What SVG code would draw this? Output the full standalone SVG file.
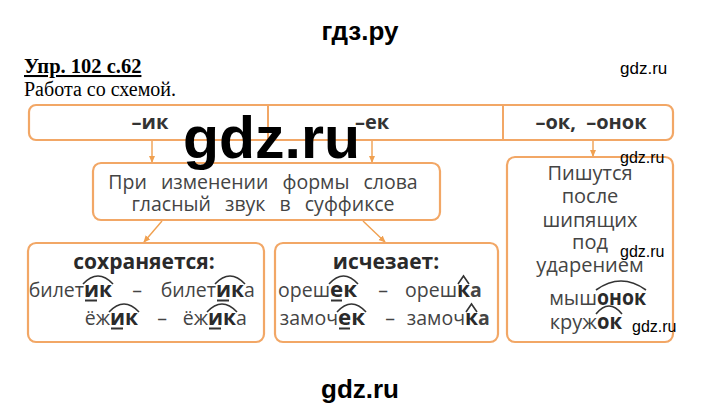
<svg xmlns="http://www.w3.org/2000/svg" width="720" height="412" viewBox="0 0 720 412">
<defs>
<style>
.box{fill:#fff;stroke:#f2a766;stroke-width:2.2}
.t{font-family:"Open Sans","Noto Sans",sans-serif;font-size:19.5px;fill:#444}
.b{font-family:"Open Sans","Noto Sans",sans-serif;font-size:21px;font-weight:bold;fill:#2a2a2a}
.m{font-family:"Open Sans","Noto Sans",sans-serif;font-size:19.5px;fill:#444;word-spacing:9px}
.hd{font-family:"Open Sans","Noto Sans",sans-serif;font-size:20px;font-weight:bold;fill:#333}
.r{font-family:"Open Sans","Noto Sans",sans-serif;font-size:20px;fill:#444}
.wm{font-family:"Liberation Sans",Arial,sans-serif;fill:#000}
.hat{fill:none;stroke:#333;stroke-width:1.6}
.ul{stroke:#333;stroke-width:1.8}
.ar{fill:none;stroke:#f0a050;stroke-width:1.4}
</style>
<marker id="ah" viewBox="0 0 8 8" refX="7" refY="4" markerWidth="7" markerHeight="7" orient="auto" markerUnits="userSpaceOnUse">
<path d="M0,0.5 L8,4 L0,7.5 z" fill="#f0a050"/>
</marker>
</defs>
<rect width="720" height="412" fill="#fff"/>

<text class="wm" x="360" y="40" font-size="26" font-weight="bold" text-anchor="middle">гдз.ру</text>
<text x="24" y="73" font-family="'Liberation Serif',serif" font-size="20.5" font-weight="bold" text-decoration="underline" fill="#000">Упр. 102 с.62</text>
<text x="24" y="96" font-family="'Liberation Serif',serif" font-size="20" fill="#000">Работа со схемой.</text>
<text class="wm" x="620" y="74" font-size="17">gdz.ru</text>

<g id="connectors">
<line class="ar" x1="152" y1="140" x2="152" y2="162" marker-end="url(#ah)"/>
<line class="ar" x1="372" y1="140" x2="372" y2="162" marker-end="url(#ah)"/>
<line class="ar" x1="593" y1="140" x2="593" y2="156" marker-end="url(#ah)"/>
<line class="ar" x1="162" y1="221" x2="144" y2="242" marker-end="url(#ah)"/>
<line class="ar" x1="363" y1="221" x2="385" y2="242" marker-end="url(#ah)"/>
</g>

<g id="suffix-bar">
<rect class="box" x="29" y="105" width="644" height="35" rx="7"/>
<line x1="268" y1="105" x2="268" y2="140" stroke="#f2a766" stroke-width="2"/>
<line x1="503" y1="105" x2="503" y2="140" stroke="#f2a766" stroke-width="2"/>
<text class="hd" x="150" y="129" text-anchor="middle">–ик</text>
<text class="hd" x="372" y="129" text-anchor="middle">–ек</text>
<text class="hd" x="591" y="129" text-anchor="middle" xml:space="preserve">–ок,  –онок</text>
</g>

<g id="rule-box">
<rect class="box" x="93" y="163" width="347" height="57" rx="8"/>
<text class="m" x="263" y="189" text-anchor="middle">При изменении формы слова</text>
<text class="m" x="263" y="211" text-anchor="middle">гласный звук в суффиксе</text>
</g>

<g id="keeps-box">
<rect class="box" x="28" y="243" width="236" height="99" rx="8"/>
<text class="b" x="144" y="269" text-anchor="middle">сохраняется:</text>
<text class="t" x="84" y="297" text-anchor="end">билет</text>
<text class="b" x="84" y="297" textLength="28" lengthAdjust="spacingAndGlyphs">ик</text>
<text class="t" x="137" y="297" text-anchor="middle">–</text>
<text class="t" x="216" y="297" text-anchor="end">билет</text>
<text class="b" x="216" y="297" textLength="28" lengthAdjust="spacingAndGlyphs">ик</text>
<text class="t" x="244" y="297">а</text>
<text class="t" x="110" y="325" text-anchor="end">ёж</text>
<text class="b" x="110" y="325" textLength="28" lengthAdjust="spacingAndGlyphs">ик</text>
<text class="t" x="162" y="325" text-anchor="middle">–</text>
<text class="t" x="208" y="325" text-anchor="end">ёж</text>
<text class="b" x="208" y="325" textLength="28" lengthAdjust="spacingAndGlyphs">ик</text>
<text class="t" x="236" y="325">а</text>
<path class="hat" d="M83,284 Q98,268 113,284 M215,284 Q230,268 245,284 M109,312 Q124,296 139,312 M207,312 Q222,296 237,312"/>
<path class="ul" d="M85,300.5 H97 M217,300.5 H229 M111,328.5 H123 M209,328.5 H221"/>
</g>

<g id="drops-box">
<rect class="box" x="275" y="243" width="223" height="99" rx="8"/>
<text class="b" x="386" y="269" text-anchor="middle">исчезает:</text>
<text class="t" x="330" y="297" text-anchor="end">ореш</text>
<text class="b" x="330" y="297" textLength="27" lengthAdjust="spacingAndGlyphs">ек</text>
<text class="t" x="383" y="297" text-anchor="middle">–</text>
<text class="t" x="457" y="297" text-anchor="end">ореш</text>
<text class="b" x="457" y="297">к<tspan class="t">а</tspan></text>
<text class="t" x="338" y="325" text-anchor="end">замоч</text>
<text class="b" x="338" y="325" textLength="27" lengthAdjust="spacingAndGlyphs">ек</text>
<text class="t" x="390" y="325" text-anchor="middle">–</text>
<text class="t" x="465" y="325" text-anchor="end">замоч</text>
<text class="b" x="465" y="325">к<tspan class="t">а</tspan></text>
<path class="hat" d="M329,284 Q343.5,268 358,284 M337,312 Q351.5,296 366,312 M458,284 L463.5,276 L469,284 M466,312 L471.5,304 L477,312"/>
<path class="ul" d="M331,300.5 H342 M339,328.5 H350"/>
</g>

<g id="ok-box">
<rect class="box" x="507" y="157" width="166" height="185" rx="8"/>
<text class="r" x="590" y="180" text-anchor="middle">Пишутся</text>
<text class="r" x="590" y="203" text-anchor="middle">после</text>
<text class="r" x="590" y="227" text-anchor="middle">шипящих</text>
<text class="r" x="590" y="249" text-anchor="middle">под</text>
<text class="r" x="590" y="272" text-anchor="middle">ударением</text>
<text class="r" x="597" y="305" text-anchor="end">мыш</text>
<text class="b" x="597" y="305" font-size="20" textLength="49" lengthAdjust="spacingAndGlyphs">онок</text>
<text class="r" x="597" y="329" text-anchor="end">круж</text>
<text class="b" x="597" y="329" font-size="20" textLength="25" lengthAdjust="spacingAndGlyphs">ок</text>
<path class="hat" d="M596,290 Q621,272 646,290 M596,314 Q609,298 622,314"/>
</g>

<text class="wm" x="183" y="158" font-size="59" font-weight="bold">gdz.ru</text>
<text class="wm" x="620" y="163" font-size="16">gdz.ru</text>
<text class="wm" x="620" y="257" font-size="16">gdz.ru</text>
<text class="wm" x="632" y="332" font-size="16">gdz.ru</text>
<text class="wm" x="360" y="398" font-size="26" font-weight="bold" text-anchor="middle">gdz.ru</text>
</svg>
